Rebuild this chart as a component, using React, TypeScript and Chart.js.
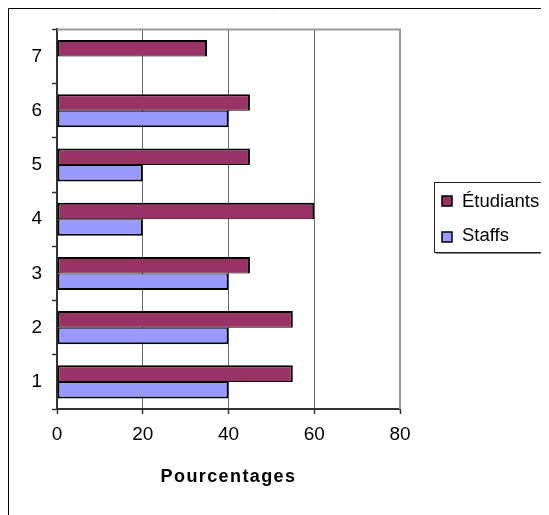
import React, { useEffect, useRef } from 'react';
import { Chart, registerables } from 'chart.js';
Chart.register(...registerables);

const categories = ['1', '2', '3', '4', '5', '6', '7'];
const etudiants = [55, 55, 45, 60, 45, 45, 35];
const staffs: (number | null)[] = [40, 40, 40, 20, 20, 40, null];
const xTicks = [0, 20, 40, 60, 80];
const seriesNames = ['Étudiants', 'Staffs'];
const seriesColors = ['#993366', '#9999FF'];
const axisTitle = 'Pourcentages';

const W = 541;
const H = 507;
const FONT = '"Liberation Sans", Arial, Helvetica, sans-serif';

const decorPlugin = {
  id: 'decor',
  beforeDraw(chart: any) {
    const ctx = chart.ctx;
    ctx.save();
    ctx.fillStyle = '#ffffff';
    ctx.fillRect(0, 0, chart.width, chart.height);
    ctx.restore();
  },
  afterDraw(chart: any) {
    const ctx = chart.ctx;
    const a = chart.chartArea;
    ctx.save();
    // outer frame (top/left)
    ctx.strokeStyle = '#000';
    ctx.lineWidth = 1;
    ctx.beginPath();
    ctx.moveTo(0.5, H);
    ctx.lineTo(0.5, 0.5);
    ctx.lineTo(W, 0.5);
    ctx.stroke();
    // plot frame top/right
    ctx.strokeStyle = '#9a9a9a';
    ctx.lineWidth = 2;
    ctx.beginPath();
    ctx.moveTo(a.left, a.top);
    ctx.lineTo(a.right, a.top);
    ctx.lineTo(a.right, a.bottom);
    ctx.stroke();
    // axis title
    ctx.fillStyle = '#000';
    ctx.font = `bold 18px ${FONT}`;
    (ctx as any).letterSpacing = '1.4px';
    ctx.textAlign = 'center';
    ctx.textBaseline = 'alphabetic';
    ctx.fillText(axisTitle, (a.left + a.right) / 2, 474);
    (ctx as any).letterSpacing = '0px';
    // legend
    ctx.strokeStyle = '#222';
    ctx.lineWidth = 1;
    ctx.strokeRect(426.5, 174.5, 112, 70);
    ctx.strokeStyle = '#888';
    ctx.beginPath();
    ctx.moveTo(539.5, 176);
    ctx.lineTo(539.5, 245.5);
    ctx.lineTo(428, 245.5);
    ctx.stroke();
    ctx.font = `18.5px ${FONT}`;
    ctx.textAlign = 'left';
    const rows = [
      { sy: 188, ty: 199 },
      { sy: 224, ty: 233 },
    ];
    seriesNames.forEach((name, i) => {
      ctx.fillStyle = seriesColors[i];
      ctx.fillRect(434, rows[i].sy, 10, 10);
      ctx.strokeStyle = '#000';
      ctx.lineWidth = 1.5;
      ctx.strokeRect(434, rows[i].sy, 10, 10);
      ctx.fillStyle = '#000';
      ctx.fillText(name, 454, rows[i].ty);
    });
    ctx.restore();
  },
};

export default function App() {
  const ref = useRef<HTMLCanvasElement>(null);
  useEffect(() => {
    document.documentElement.style.overflow = 'hidden';
    document.body.style.overflow = 'hidden';
    const chart = new Chart(ref.current!, {
      type: 'bar',
      data: {
        labels: categories,
        datasets: [
          {
            label: seriesNames[0],
            data: etudiants,
            backgroundColor: seriesColors[0],
            borderColor: '#000',
            borderWidth: { top: 2, left: 2, right: 2, bottom: 1 },
            borderSkipped: false,
            barPercentage: 1,
            categoryPercentage: 0.61,
          },
          {
            label: seriesNames[1],
            data: staffs,
            backgroundColor: seriesColors[1],
            borderColor: '#000',
            borderWidth: { top: 1, left: 2, right: 2, bottom: 2 },
            borderSkipped: false,
            barPercentage: 1,
            categoryPercentage: 0.61,
          },
        ],
      },
      options: {
        indexAxis: 'y',
        responsive: false,
        animation: false,
        devicePixelRatio: 1,
        layout: { padding: { left: 0, top: 19, right: 149, bottom: 66 } },
        plugins: {
          legend: { display: false },
          tooltip: { enabled: false },
          title: { display: false },
        },
        scales: {
          x: {
            type: 'linear',
            min: 0,
            max: 80,
            afterBuildTicks: (s: any) => {
              s.ticks = xTicks.map((v) => ({ value: v }));
            },
            afterFit: (s: any) => {
              s.height = 40;
            },
            ticks: {
              font: { family: FONT, size: 19 },
              color: '#000',
              padding: 9,
              maxRotation: 0,
            },
            grid: {
              color: '#6a6a6a',
              lineWidth: 1,
              drawTicks: true,
              tickLength: 5,
              tickColor: '#333',
              tickWidth: 1.5,
            },
            border: { color: '#333', width: 2 },
          },
          y: {
            type: 'category',
            reverse: true,
            afterFit: (s: any) => {
              s.width = 49;
            },
            ticks: {
              font: { family: FONT, size: 19 },
              color: '#000',
              padding: 10,
            },
            grid: {
              drawOnChartArea: false,
              drawTicks: true,
              tickLength: 5,
              tickColor: '#333',
              tickWidth: 1.5,
              offset: true,
            },
            border: { color: '#333', width: 2 },
          },
        },
      },
      plugins: [decorPlugin],
    } as any);
    return () => chart.destroy();
  }, []);
  return (
    <canvas
      ref={ref}
      width={W}
      height={H}
      style={{ display: 'block', width: W, height: H }}
    />
  );
}
